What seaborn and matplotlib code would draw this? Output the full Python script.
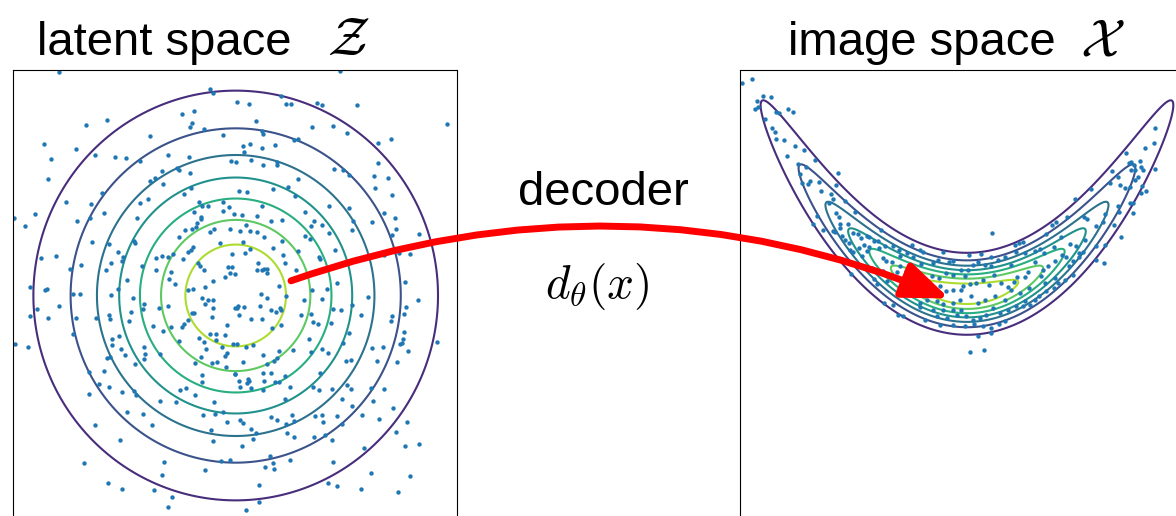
import numpy as np
import matplotlib
matplotlib.use("Agg")
import matplotlib.pyplot as plt
import seaborn as sns
from matplotlib.patches import ConnectionPatch

sns.set_style("white")
plt.rcParams["font.family"] = ["Liberation Sans", "DejaVu Sans"]
plt.rcParams["mathtext.fontset"] = "cm"
plt.rcParams["text.color"] = "black"

# contour levels of the standard normal density
levels = [0.02, 0.04, 0.06, 0.08, 0.10, 0.12, 0.14]

# decoder (banana) shape
x0, y0 = 0.043, 0.017   # centre of the banana
s1, s2 = 1.02, 0.20     # horizontal / vertical spread
bend = 0.452            # how much the arms curl up
widen = 0.12            # arms get a little thicker away from the centre

# sample points in 1/3-pixel units,
# one list per zoomed quadrant (x right, y down)
latent_nw = [(138,6),(590,57),(600,70),(543,124),(506,133),(536,158),(530,170),(574,178),(282,150),(220,165),
    (412,197),(630,196),(92,222),(190,237),(247,254),(113,268),(307,262),(339,264),(382,274),(465,255),
    (528,261),(654,273),(493,293),(497,300),(530,308),(446,302),(427,323),(410,334),(451,341),(106,328),
    (535,355),(266,370),(512,373),(405,386),(159,395),(234,402),(380,400),(557,395),(567,409),(584,407),
    (629,396),(647,412),(273,428),(543,425),(66,432),(3,443),(193,452),(232,445),(371,443),(563,440),
    (565,448),(630,423),(662,433),(35,469),(552,460),(548,472),(516,481),(536,477),(498,500),(652,478),
    (604,478),(592,486),(238,517),(289,521),(362,514),(365,518),(620,518),(540,532),(534,540),(525,545),
    (83,565),(128,558),(315,547),(330,561),(328,572),(293,580),(205,585),(386,590),(429,564),(446,559),
    (464,561),(481,551),(510,567),(555,578),(562,590),(574,602),(644,592),(658,592),(656,553),(171,599),
    (279,602),(429,602),(474,606),(601,633),(635,622),(651,610),(341,631),(468,628),(487,643),(50,651),
    (101,657),(95,662),(525,660),(540,657),(577,651),(314,659)]
latent_ne = [(316,3),(5,96),(41,101),(138,78),(153,103),(168,103),(247,99),(262,104),(365,104),(64,152),
    (231,172),(293,169),(336,190),(637,161),(80,183),(85,192),(429,220),(467,206),(176,209),(188,208),
    (120,225),(44,223),(23,229),(26,245),(80,235),(3,275),(47,270),(84,285),(125,275),(125,284),
    (428,279),(296,298),(325,300),(342,315),(416,317),(460,325),(189,327),(421,354),(470,376),(115,357),
    (159,352),(12,363),(36,365),(180,377),(82,408),(282,409),(343,413),(448,430),(479,443),(209,426),
    (141,449),(109,452),(65,438),(21,435),(236,453),(228,467),(262,465),(355,452),(412,455),(483,476),
    (472,494),(551,492),(33,465),(46,482),(16,483),(65,487),(88,500),(211,497),(226,507),(283,488),
    (350,480),(141,514),(24,516),(30,548),(45,537),(113,534),(190,543),(300,539),(253,560),(256,567),
    (145,555),(448,555),(493,550),(524,552),(70,581),(149,579),(81,602),(88,598),(67,602),(97,598),
    (95,610),(183,600),(298,592),(1,613),(132,649),(230,662),(276,658),(306,640),(509,637)]
latent_sw = [(180,3),(201,3),(293,6),(359,15),(392,33),(389,48),(437,45),(464,40),(355,57),(73,50),
    (138,40),(51,69),(104,75),(188,77),(249,77),(289,68),(292,78),(348,86),(420,101),(449,115),
    (473,103),(507,102),(513,94),(526,82),(538,60),(543,62),(567,17),(575,35),(586,22),(601,22),
    (601,45),(596,72),(643,96),(665,45),(180,125),(317,131),(297,139),(296,156),(323,168),(336,188),
    (394,164),(397,185),(392,200),(366,214),(282,196),(292,193),(440,185),(499,145),(557,135),(574,148),
    (578,168),(590,125),(610,123),(610,141),(636,126),(628,162),(659,154),(5,153),(45,162),(545,212),
    (563,193),(598,212),(611,207),(637,190),(641,182),(638,222),(665,245),(272,235),(228,237),(258,273),
    (288,284),(326,297),(227,305),(363,295),(370,308),(500,293),(520,285),(566,246),(566,268),(546,307),
    (490,328),(440,325),(603,328),(342,359),(390,363),(417,396),(569,367),(605,364),(631,357),(643,389),
    (593,412),(600,445),(245,398),(320,443),(213,510),(452,507),(447,547),(577,532),(625,505),(651,502),
    (286,570),(326,589),(422,591),(477,614),(464,644)]
latent_se = [(79,5),(97,17),(153,9),(206,21),(260,20),(400,13),(548,22),(10,40),(27,42),(5,47),
    (13,67),(49,80),(81,80),(76,39),(107,52),(122,57),(135,47),(138,53),(137,96),(112,107),
    (198,67),(228,65),(233,88),(248,93),(287,90),(295,49),(319,51),(350,36),(377,66),(470,70),
    (468,84),(512,42),(507,65),(223,138),(227,177),(262,170),(280,181),(325,152),(342,120),(411,167),
    (444,163),(494,153),(501,151),(504,138),(508,118),(518,175),(606,148),(7,153),(54,158),(32,162),
    (85,187),(131,176),(174,172),(125,195),(116,205),(96,213),(24,208),(0,245),(38,258),(42,265),
    (13,265),(14,282),(36,270),(49,285),(83,292),(88,265),(84,242),(107,240),(120,267),(133,267),
    (151,249),(166,284),(233,282),(254,240),(253,292),(290,290),(334,205),(349,201),(425,206),(486,207),
    (335,278),(348,290),(407,287),(447,288),(320,320),(150,320),(350,341),(381,366),(414,326),(474,347),
    (14,381),(25,390),(49,408),(63,420),(108,374),(125,383),(154,394),(171,367),(177,384),(240,369),
    (260,367),(265,388),(307,370),(322,393),(432,378),(515,389),(155,420),(178,432),(236,433),(270,427),
    (290,443),(53,440),(20,461),(387,465),(484,419),(510,461),(552,453),(104,491),(114,510),(117,528),
    (91,523),(166,502),(294,509),(407,540),(525,550),(73,577),(278,572),(305,581),(379,590),(488,597),
    (71,629),(33,651)]

image_w = [(7,39),(36,26),(68,78),(94,82),(50,92),(45,117),(55,112),(108,127),(117,128),(143,118),
    (160,127),(75,147),(97,175),(104,185),(108,208),(132,211),(164,228),(193,240),(142,258),(173,283),
    (225,269),(198,290),(180,312),(210,333),(187,338),(205,343),(293,308),(238,337),(242,362),(289,344),
    (273,372),(280,388),(314,393),(267,400),(345,427),(232,437),(219,462),(250,480),(287,430),(298,440),
    (300,463),(299,475),(323,462),(278,482),(284,485),(305,497),(315,510),(338,490),(355,493),(363,503),
    (381,497),(388,500),(422,479),(403,512),(328,520),(330,540),(340,547),(358,533),(372,526),(367,557),
    (380,542),(388,530),(415,512),(418,535),(435,528),(460,527),(476,540),(517,525),(480,557),(500,550),
    (519,560),(541,540),(549,545),(430,563),(437,573),(455,577),(479,588),(497,603),(516,597),(505,604),
    (522,610),(543,583),(580,580),(593,570),(608,546),(626,577),(640,573),(289,567),(333,612),(395,595),
    (430,603),(471,607),(403,627),(442,635),(460,620),(575,620),(598,625),(617,610),(640,615),(565,640),
    (600,650),(618,665),(640,660),(560,660),(580,655),(410,642),(432,700),(458,707),(540,700),(560,690),
    (590,695),(610,702),(640,700),(473,737),(488,738),(540,712),(580,720),(610,720),(640,720),(590,740),
    (600,765),(640,767),(620,745),(650,735),(555,750)]
image_e = [(101,488),(350,386),(400,357),(505,248),(513,280),(520,277),(528,285),(546,272),(548,290),(556,300),
    (518,300),(532,300),(540,320),(530,330),(515,352),(500,355),(590,175),(587,220),(562,233),(590,298),
    (463,302),(455,338),(485,345),(479,320),(526,398),(515,400),(525,430),(563,363),(549,370),(551,347),
    (480,407),(483,426),(440,433),(436,455),(468,465),(413,468),(378,440),(388,447),(327,440),(281,465),
    (293,456),(263,492),(195,515),(183,520),(230,543),(247,537),(257,550),(287,531),(310,500),(337,522),
    (354,528),(363,549),(375,546),(381,510),(414,528),(440,526),(490,500),(438,578),(413,571),(364,560),
    (345,572),(334,590),(325,560),(311,556),(292,574),(270,590),(255,600),(232,575),(210,607),(202,622),
    (177,622),(168,637),(150,652),(130,640),(108,617),(92,645),(74,630),(53,640),(36,643),(15,648),
    (8,660),(5,690),(40,680),(60,700),(80,690),(110,680),(140,690),(160,660),(185,670),(200,695),
    (216,706),(230,690),(243,680),(265,665),(287,655),(300,640),(320,630),(345,616),(290,625),(260,640),
    (250,620),(212,655),(195,708),(175,710),(150,720),(125,730),(105,715),(85,735),(65,745),(45,750),
    (25,740),(10,720),(20,768),(47,762),(75,770),(100,790),(122,762),(140,755),(100,775),(60,800),
    (36,848),(77,842),(8,600),(20,620),(30,600),(45,585),(60,575),(80,585),(100,590),(120,570),
    (140,560),(160,585),(34,556),(68,553),(100,560),(200,550),(175,545),(170,525)]


def to_data(pts, dx=0, dy=0):
    p = np.asarray(pts, dtype=float)
    return (p[:, 0] + dx) / 298 - 2.242, 2.242 - (p[:, 1] + dy) / 302


def gauss(z1, z2):
    return np.exp(-(z1 ** 2 + z2 ** 2) / 2) / (2 * np.pi)


lat = [to_data(latent_nw), to_data(latent_ne, 666, 0),
       to_data(latent_sw, 0, 669), to_data(latent_se, 666, 669)]
lat_x = np.concatenate([p[0] for p in lat])
lat_y = np.concatenate([p[1] for p in lat])
img = [to_data(image_w), to_data(image_e, 654, 0)]
img_x = np.concatenate([p[0] for p in img])
img_y = np.concatenate([p[1] for p in img])

xlim, ylim = (-2.242, 2.228), (-2.242, 2.242)
gx, gy = np.meshgrid(np.linspace(*xlim, 700), np.linspace(*ylim, 700))
dens_latent = gauss(gx, gy)
u1 = (gx - x0) / s1
dens_image = gauss(u1, (gy - y0 - bend * u1 ** 2) / (s2 * (1 + widen * u1 ** 2)))

fig = plt.figure(figsize=(11.76, 5.16), dpi=100)
ax1 = fig.add_axes([13 / 1176, -5 / 516, 444 / 1176, 451 / 516])
ax2 = fig.add_axes([740 / 1176, -5 / 516, 444 / 1176, 451 / 516])

for ax, dens, px, py in [(ax1, dens_latent, lat_x, lat_y), (ax2, dens_image, img_x, img_y)]:
    ax.contour(gx, gy, dens, levels=levels, cmap="viridis", vmin=0, vmax=0.16,
               linewidths=1.5, zorder=1)
    sns.scatterplot(x=px, y=py, ax=ax, s=10, color="#1f77b4", linewidth=0,
                    legend=False, zorder=2)
    ax.set_xlim(*xlim)
    ax.set_ylim(*ylim)
    ax.set_xticks([])
    ax.set_yticks([])
    for sp in ax.spines.values():
        sp.set_color("black")
        sp.set_linewidth(0.8)

# titles: words and the calligraphic symbol (drawn a bit larger, as in the original)
fig.text(37 / 1176, 1 - 55 / 516, "latent space", fontsize=34, ha="left", va="baseline")
fig.text(327 / 1176, 1 - 55 / 516, r"$\mathcal{Z}$", fontsize=38, ha="left", va="baseline")
fig.text(788 / 1176, 1 - 55 / 516, "image space", fontsize=34, ha="left", va="baseline")
fig.text(1080 / 1176, 1 - 55 / 516, r"$\mathcal{X}$", fontsize=38, ha="left", va="baseline")

fig.text(603 / 1176, 1 - 205 / 516, "decoder", fontsize=34, ha="center", va="baseline")
fig.text(597 / 1176, 1 - 298 / 516, r"$d_\theta(x)$", fontsize=34, ha="center", va="baseline")

arrow = ConnectionPatch(xyA=(0.557, 0.146), coordsA=ax1.transData,
                        xyB=(-0.135, -0.03), coordsB=ax2.transData,
                        arrowstyle="-|>,head_length=28,head_width=11",
                        connectionstyle="arc3,rad=-0.19", mutation_scale=1,
                        color="red", lw=5, shrinkA=0, shrinkB=0, zorder=10)
fig.add_artist(arrow)

fig.savefig("out.png", dpi=100)
